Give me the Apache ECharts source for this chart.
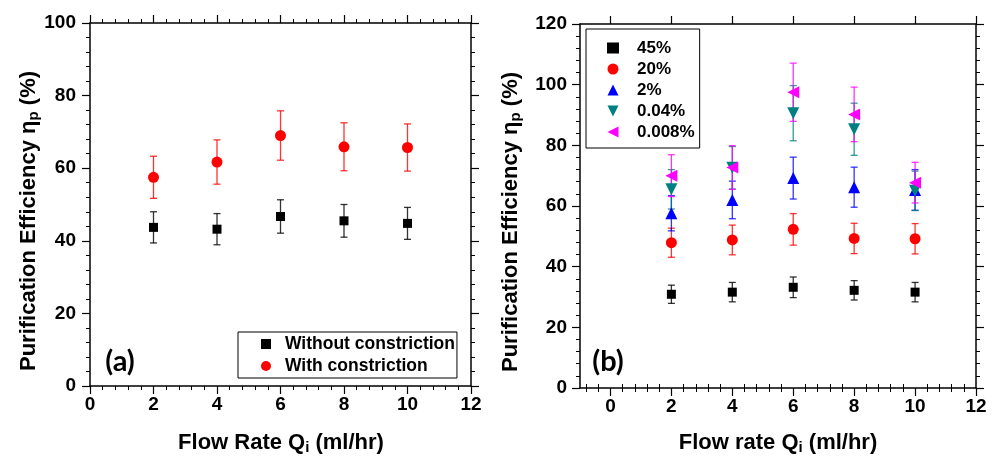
<!DOCTYPE html>
<html><head><meta charset="utf-8">
<script src="https://cdn.jsdelivr.net/npm/echarts@6/dist/echarts.min.js"></script>
<style>html,body{margin:0;padding:0;background:#fff}#c{width:997px;height:457px}</style>
</head><body><div id="c"></div>
<script>
// ---------- data ----------
const flowRates = [2, 4, 6, 8, 10];

// panel (a)
const aNames = ['Without constriction', 'With constriction'];
const aWithout = [43.7, 43.2, 46.7, 45.5, 44.8];
const aWithoutErr = [4.3, 4.3, 4.6, 4.5, 4.4];
const aWith = [57.5, 61.7, 69.0, 65.9, 65.7];
const aWithErr = [5.8, 6.1, 6.8, 6.6, 6.5];

// panel (b)
const bNames = ['45%', '20%', '2%', '0.04%', '0.008%'];
const b45 = [30.9, 31.6, 33.2, 32.2, 31.6];
const b45Err = [3.0, 3.2, 3.4, 3.2, 3.2];
const b20 = [47.9, 48.8, 52.3, 49.3, 49.2];
const b20Err = [4.8, 4.9, 5.2, 5.0, 5.0];
const b2 = [57.6, 62.0, 69.2, 66.2, 65.3];
const b2Err = [5.8, 6.2, 6.9, 6.6, 6.7];
const b004 = [65.5, 72.6, 90.6, 85.3, 65.0];
const b004Err = [6.5, 7.0, 9.1, 8.6, 6.5];
const b0008 = [70.0, 72.7, 97.5, 90.2, 67.7];
const b0008Err = [6.9, 7.2, 9.6, 9.0, 6.7];

// ticks
const xTickLabelsB = [0, 2, 4, 6, 8, 10, 12];

// ---------- chart ----------
const FONT = '"Liberation Sans", Arial, Helvetica, sans-serif';
const chart = echarts.init(document.getElementById('c'), null, {renderer: 'canvas'});

const lineStyle = {color: '#000', width: 1.5};
function axisBase(extra) {
  return Object.assign({
    type: 'value',
    axisLine: {show: true, onZero: false, lineStyle: lineStyle},
    axisTick: {show: true, inside: false, length: 8, lineStyle: {color: '#000', width: 1.2}},
    minorTick: {show: true, splitNumber: 5, length: 4, lineStyle: {color: '#000', width: 1}},
    splitLine: {show: false},
    axisLabel: {show: false}
  }, extra);
}
const tickLabel = (margin) => ({show: true, color: '#000', fontSize: 19, fontWeight: 'bold', fontFamily: FONT, margin: margin});

// minor tick positions for panel b x axis (geometry only)
const minorB = [];
for (let k = -2; k <= 30; k++) { const v = +(k * 0.4).toFixed(2); if (v > -1 && v < 12 && Math.abs(v / 2 - Math.round(v / 2)) > 1e-6) minorB.push(v); }

const xAxes = [
  axisBase({gridIndex: 0, position: 'bottom', min: 0, max: 12, interval: 2, axisLabel: tickLabel(9)}),
  axisBase({gridIndex: 0, position: 'top', min: 0, max: 12, interval: 2}),
  axisBase({gridIndex: 1, position: 'bottom', min: -1, max: 12, minorTick: {show: false},
    axisTick: {show: true, length: 8, customValues: xTickLabelsB, lineStyle: {color: '#000', width: 1.2}},
    axisLabel: Object.assign(tickLabel(9), {customValues: xTickLabelsB})}),
  axisBase({gridIndex: 1, position: 'bottom', min: -1, max: 12, minorTick: {show: false}, axisLine: {show: false},
    axisTick: {show: true, length: 4, customValues: minorB, lineStyle: {color: '#000', width: 1}}}),
  axisBase({gridIndex: 1, position: 'top', min: -1, max: 12, minorTick: {show: false},
    axisTick: {show: true, length: 8, customValues: xTickLabelsB, lineStyle: {color: '#000', width: 1.2}}}),
  axisBase({gridIndex: 1, position: 'top', min: -1, max: 12, minorTick: {show: false}, axisLine: {show: false},
    axisTick: {show: true, length: 4, customValues: minorB, lineStyle: {color: '#000', width: 1}}})
];
const yAxes = [
  axisBase({gridIndex: 0, position: 'left', min: 0, max: 100, interval: 20, axisLabel: tickLabel(14)}),
  axisBase({gridIndex: 0, position: 'right', min: 0, max: 100, interval: 20}),
  axisBase({gridIndex: 1, position: 'left', min: 0, max: 120, interval: 20, axisLabel: tickLabel(13)}),
  axisBase({gridIndex: 1, position: 'right', min: 0, max: 120, interval: 20})
];

function errSeries(name, vals, errs, color, xi, yi) {
  return {
    type: 'custom', name: name, xAxisIndex: xi, yAxisIndex: yi, z: 2, silent: true,
    data: flowRates.map((x, i) => [x, vals[i], errs[i]]),
    renderItem: function (params, api) {
      const x = api.value(0), y = api.value(1), e = api.value(2);
      const t = api.coord([x, y + e]), b = api.coord([x, y - e]);
      const hw = 3.5;
      const st = {stroke: color, lineWidth: 1.3, opacity: 0.8};
      return {type: 'group', children: [
        {type: 'line', shape: {x1: t[0], y1: t[1], x2: b[0], y2: b[1]}, style: st},
        {type: 'line', shape: {x1: t[0] - hw, y1: t[1], x2: t[0] + hw, y2: t[1]}, style: st},
        {type: 'line', shape: {x1: b[0] - hw, y1: b[1], x2: b[0] + hw, y2: b[1]}, style: st}
      ]};
    }
  };
}
function ptSeries(name, vals, color, symbol, size, rot, xi, yi) {
  return {
    type: 'scatter', name: name, xAxisIndex: xi, yAxisIndex: yi, z: 3,
    symbol: symbol, symbolSize: size, symbolRotate: rot,
    itemStyle: {color: color, opacity: 1},
    data: flowRates.map((x, i) => [x, vals[i]])
  };
}

const series = [
  errSeries('e_a0', aWithout, aWithoutErr, '#000', 0, 0),
  errSeries('e_a1', aWith, aWithErr, '#ff0000', 0, 0),
  ptSeries(aNames[0], aWithout, '#000', 'rect', 9, 0, 0, 0),
  ptSeries(aNames[1], aWith, '#ff0000', 'circle', 11, 0, 0, 0),

  errSeries('e_b0', b45, b45Err, '#000', 2, 2),
  errSeries('e_b1', b20, b20Err, '#ff0000', 2, 2),
  errSeries('e_b2', b2, b2Err, '#0000ff', 2, 2),
  errSeries('e_b3', b004, b004Err, '#008080', 2, 2),
  errSeries('e_b4', b0008, b0008Err, '#ff00ff', 2, 2),
  ptSeries(bNames[0], b45, '#000', 'rect', 9, 0, 2, 2),
  ptSeries(bNames[1], b20, '#ff0000', 'circle', 11, 0, 2, 2),
  ptSeries(bNames[2], b2, '#0000ff', 'triangle', 12, 0, 2, 2),
  ptSeries(bNames[3], b004, '#008080', 'triangle', 12, 180, 2, 2),
  ptSeries(bNames[4], b0008, '#ff00ff', 'triangle', 12, 90, 2, 2)
];

const legendTextA = {color: '#000', fontSize: 17.5, fontWeight: 'bold', fontFamily: FONT, lineHeight: 18, padding: [0, 0, 0, 9]};
const legendTextB = {color: '#000', fontSize: 17, fontWeight: 'bold', fontFamily: FONT, lineHeight: 18, padding: [0, 0, 0, 13]};
const ICON_UP = 'path://M5,0 L10,10 L0,10 Z';
const ICON_DOWN = 'path://M0,0 L10,0 L5,10 Z';
const ICON_LEFT = 'path://M0,5 L10,0 L10,10 Z';

const titleStyle = {fontSize: 22, fontWeight: 'bold', fontFamily: FONT, fill: '#000'};
function richTitle(text, x, y, rot) {
  return {
    type: 'text', x: x, y: y, rotation: rot, silent: true,
    style: Object.assign({}, titleStyle, {
      text: text, align: 'center', verticalAlign: 'middle',
      rich: {
        n: {fontSize: 22, fontWeight: 'bold', fontFamily: FONT, color: '#000'},
        sub: {fontSize: 15, fontWeight: 'bold', fontFamily: FONT, color: '#000', padding: [9, 0, 0, 0]}
      }
    })
  };
}

chart.setOption({
  animation: false,
  backgroundColor: '#fff',
  grid: [
    {left: 90, top: 23, width: 381, height: 363},
    {left: 580, top: 24, width: 396, height: 364}
  ],
  xAxis: xAxes,
  yAxis: yAxes,
  legend: [
    {
      data: [{name: aNames[0], icon: 'rect'}, {name: aNames[1], icon: 'circle'}],
      orient: 'vertical', left: 238, top: 332,
      padding: [3, 2, 3, 23], itemWidth: 10, itemHeight: 10, itemGap: 4,
      borderColor: '#000', borderWidth: 1, textStyle: legendTextA, selectedMode: false
    },
    {
      data: [
        {name: bNames[0], icon: 'rect'}, {name: bNames[1], icon: 'circle'},
        {name: bNames[2], icon: ICON_UP}, {name: bNames[3], icon: ICON_DOWN},
        {name: bNames[4], icon: ICON_LEFT}
      ],
      orient: 'vertical', left: 586, top: 29,
      padding: [10, 5, 7, 21], itemWidth: 12, itemHeight: 11, itemGap: 3,
      borderColor: '#000', borderWidth: 1, textStyle: legendTextB, selectedMode: false
    }
  ],
  graphic: [
    richTitle('{n|Purification Efficiency η}{sub|p}{n| (%)}', 29, 221, Math.PI / 2),
    richTitle('{n|Purification Efficiency η}{sub|p}{n| (%)}', 511, 222, Math.PI / 2),
    richTitle('{n|Flow Rate Q}{sub|i}{n| (ml/hr)}', 281, 443, 0),
    richTitle('{n|Flow rate Q}{sub|i}{n| (ml/hr)}', 778, 443, 0),
    {type: 'text', x: 120, y: 362, silent: true,
      style: {text: '(a)', fontSize: 29, fontWeight: 'bold', fontFamily: 'Lato, "Open Sans", sans-serif', fill: '#000', align: 'center', verticalAlign: 'middle'}},
    {type: 'text', x: 608, y: 362, silent: true,
      style: {text: '(b)', fontSize: 29, fontWeight: 'bold', fontFamily: 'Lato, "Open Sans", sans-serif', fill: '#000', align: 'center', verticalAlign: 'middle'}}
  ],
  series: series
});
</script>
</body></html>
